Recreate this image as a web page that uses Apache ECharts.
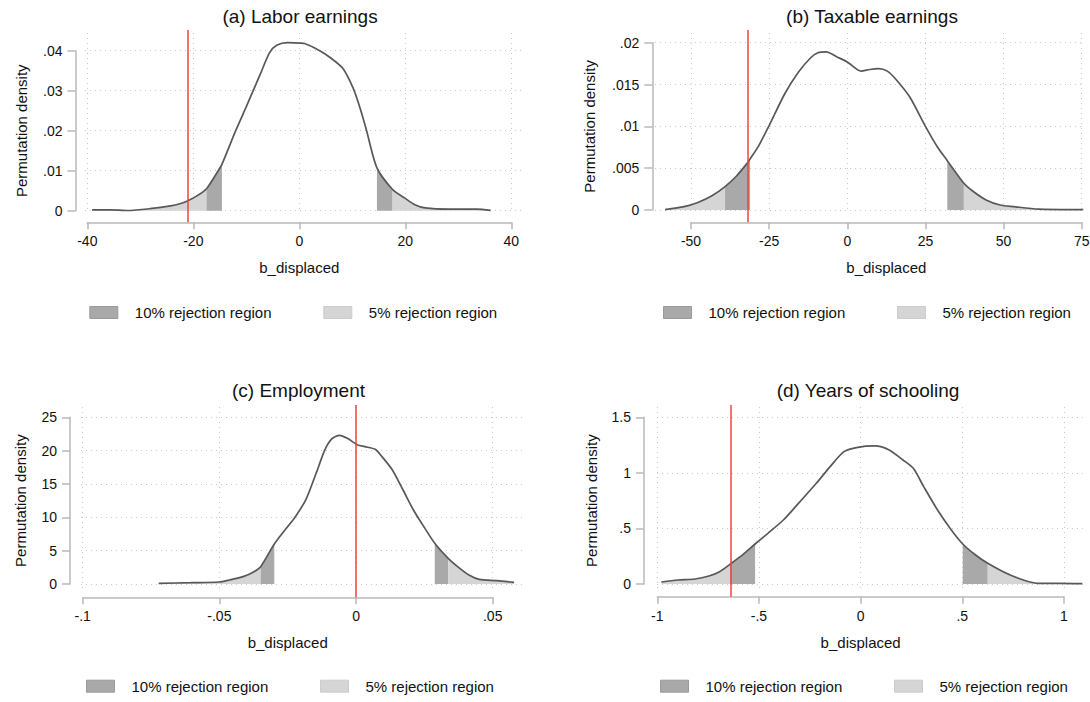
<!DOCTYPE html>
<html><head><meta charset="utf-8">
<script src="https://cdn.jsdelivr.net/npm/echarts@6/dist/echarts.min.js"></script>
<style>html,body{margin:0;padding:0;background:#fff}#c{width:1090px;height:702px}</style>
</head><body><div id="c"></div>
<script>
// ---------- DATA ----------
const panelTitles = ['(a) Labor earnings', '(b) Taxable earnings', '(c) Employment', '(d) Years of schooling'];
const xAxisName = 'b_displaced';
const yAxisName = 'Permutation density';
const legend10 = '10% rejection region';
const legend5 = '5% rejection region';

// (a) Labor earnings
const laborCurve = [[-39.1,0.0002],[-35.5,0.0002],[-32.4,0.00005],[-28.2,0.0005],[-24.3,0.0012],[-22.4,0.0018],[-21,0.0025],[-19.1,0.0039],[-17.5,0.0055],[-15.3,0.0100],[-14.6,0.0116],[-12.0,0.0200],[-10,0.0260],[-8.7,0.0300],[-7.4,0.0340],[-5.6,0.0395],[-4.2,0.0414],[-2.2,0.0420],[0.4,0.0419],[1.0,0.0418],[3.0,0.0406],[5.6,0.0385],[8.2,0.0356],[10.2,0.0305],[11.5,0.0255],[12.6,0.0205],[14.65,0.0107],[17.6,0.0053],[19.85,0.0032],[21.8,0.0015],[23.75,0.0007],[28.3,0.0004],[33.5,0.0004],[36.1,0.0001]];
const laborXTicks = [-40,-20,0,20,40];
const laborYTicks = [0,0.01,0.02,0.03,0.04];
const laborEstimate = -21;
const labor10 = [-14.6, 14.65];
const labor5 = [-17.5, 17.6];

// (b) Taxable earnings
const taxCurve = [[-58.3,0.00004],[-52.2,0.0004],[-47.8,0.0009],[-43.3,0.0017],[-39.1,0.0028],[-35.6,0.0040],[-32,0.0056],[-31.1,0.0061],[-28.3,0.0077],[-25,0.0101],[-20,0.0139],[-15.6,0.0165],[-11.7,0.0182],[-9.4,0.0188],[-6.7,0.0189],[-3.3,0.0183],[0,0.0177],[4.4,0.0166],[7.2,0.0168],[10,0.0169],[12.8,0.0166],[15.6,0.0156],[20,0.0135],[25,0.0100],[28.9,0.0075],[32,0.0059],[37.3,0.0032],[40,0.0023],[44.4,0.0012],[48.9,0.0006],[53.3,0.0004],[61.1,0.0001],[75.5,0.00004]];
const taxXTicks = [-50,-25,0,25,50,75];
const taxYTicks = [0,0.005,0.01,0.015,0.02];
const taxEstimate = -32;
const tax10 = [-31.1, 32];
const tax5 = [-39.1, 37.3];

// (c) Employment
const empCurve = [[-0.0722,0.1],[-0.0604,0.2],[-0.0502,0.3],[-0.0464,0.6],[-0.0413,1.1],[-0.0375,1.8],[-0.0349,2.6],[-0.0299,6.0],[-0.0260,8.1],[-0.0222,10.1],[-0.0184,12.6],[-0.0146,16.6],[-0.0114,20.1],[-0.0089,21.75],[-0.0060,22.3],[-0.0032,21.85],[0.0006,20.85],[0.0032,20.6],[0.0070,20.2],[0.0095,19.1],[0.0133,17.1],[0.0172,14.1],[0.0210,11.1],[0.0248,8.6],[0.0288,6.1],[0.0337,3.85],[0.0375,2.5],[0.0413,1.35],[0.0451,0.7],[0.0515,0.5],[0.0578,0.25]];
const empXTicks = [-0.1,-0.05,0,0.05];
const empYTicks = [0,5,10,15,20,25];
const empEstimate = 0.001;
const emp10 = [-0.0299, 0.0288];
const emp5 = [-0.0349, 0.0337];

// (d) Years of schooling
const schoolCurve = [[-0.98,0.018],[-0.899,0.036],[-0.814,0.045],[-0.746,0.072],[-0.694,0.111],[-0.643,0.177],[-0.592,0.246],[-0.519,0.36],[-0.456,0.456],[-0.38,0.576],[-0.32,0.696],[-0.218,0.906],[-0.15,1.056],[-0.082,1.191],[-0.014,1.23],[0.071,1.242],[0.14,1.206],[0.208,1.116],[0.259,1.041],[0.31,0.876],[0.378,0.666],[0.446,0.486],[0.502,0.36],[0.565,0.261],[0.625,0.186],[0.701,0.111],[0.786,0.045],[0.871,0.006],[0.974,0.006],[1.09,0.003]];
const schoolXTicks = [-1,-0.5,0,0.5,1];
const schoolYTicks = [0,0.5,1,1.5];
const schoolEstimate = -0.64;
const school10 = [-0.519, 0.502];
const school5 = [-0.643, 0.625];

// ---------- LAYOUT (pixels) ----------
const layout = [
  {x0:87.3, x1:511.3, y0:210.7, y1:50.7, plotL:85, plotR:523, vTop:33, vBot:213, yAxisX:75.5, xAxisY:222.3, redTop:30, titleX:300, titleY:16, legY:313, leg10:89.3, leg5:323.3, yNameGap:47},
  {x0:691, x1:1081.7, y0:210, y1:42.7, plotL:655, plotR:1085, vTop:33, vBot:213, yAxisX:652.3, xAxisY:222.3, redTop:30, titleX:872, titleY:16, legY:313, leg10:663, leg5:897, yNameGap:55},
  {x0:82.7, x1:492.7, y0:584, y1:417.3, plotL:81, plotR:523, vTop:407, vBot:588, yAxisX:70, xAxisY:597.3, redTop:405, titleX:298.5, titleY:390, legY:686.7, leg10:86, leg5:320, yNameGap:42},
  {x0:657.3, x1:1064, y0:584, y1:417.3, plotL:657, plotR:1086, vTop:407, vBot:588, yAxisX:644, xAxisY:596.7, redTop:405, titleX:868, titleY:390, legY:686.7, leg10:660, leg5:894, yNameGap:45}
];

const panels = [
  {curve:laborCurve, xt:laborXTicks, yt:laborYTicks, est:laborEstimate, r10:labor10, r5:labor5},
  {curve:taxCurve, xt:taxXTicks, yt:taxYTicks, est:taxEstimate, r10:tax10, r5:tax5},
  {curve:empCurve, xt:empXTicks, yt:empYTicks, est:empEstimate, r10:emp10, r5:emp5},
  {curve:schoolCurve, xt:schoolXTicks, yt:schoolYTicks, est:schoolEstimate, r10:school10, r5:school5}
];

// ---------- STYLE ----------
const FONT = '"Liberation Sans", Arial, Helvetica, sans-serif';
const axisColor = '#b9b9b9';
const gridStyle = {color:'#c9c9c9', width:1, type:[1,4]};
const curveColor = '#585858';
const redColor = '#e8463b';
const dark = '#a9a9a9';
const light = '#d5d5d5';

function fmt(v) {
  let s = String(+(+v).toPrecision(6));
  if (s.startsWith('0.')) s = s.slice(1);
  else if (s.startsWith('-0.')) s = '-' + s.slice(2);
  return s;
}

const grid = [], xAxis = [], yAxis = [], series = [], legend = [], graphic = [];

panels.forEach((p, i) => {
  const L = layout[i];
  const xmin = p.xt[0], xmax = p.xt[p.xt.length-1], xint = p.xt[1]-p.xt[0];
  const ymin = p.yt[0], ymax = p.yt[p.yt.length-1], yint = p.yt[1]-p.yt[0];
  // data grid spans the whole plot region; extend the scale so the tick positions stay put
  const perPx = (xmax - xmin) / (L.x1 - L.x0);
  const xminD = xmin - (L.x0 - L.plotL) * perPx;
  const xmaxD = xmax + (L.plotR - L.x1) * perPx;

  const gV = grid.length, gH = gV+1, gD = gV+2, gR = gV+3;
  grid.push({left:L.x0, width:L.x1-L.x0, top:L.vTop, height:L.vBot-L.vTop, containLabel:false, outerBoundsMode:'none'});
  grid.push({left:L.plotL, width:L.plotR-L.plotL, top:L.y1, height:L.y0-L.y1, containLabel:false, outerBoundsMode:'none'});
  grid.push({left:L.plotL, width:L.plotR-L.plotL, top:L.y1, height:L.y0-L.y1, containLabel:false, outerBoundsMode:'none'});
  grid.push({left:L.x0, width:L.x1-L.x0, top:L.redTop, height:L.xAxisY-L.redTop, containLabel:false, outerBoundsMode:'none'});

  xAxis.push({gridIndex:gV, type:'value', min:xmin, max:xmax, interval:xint, position:'bottom', offset:L.xAxisY-L.vBot,
    axisLine:{show:true, onZero:false, lineStyle:{color:axisColor, width:1.5}},
    axisTick:{show:true, length:7, lineStyle:{color:axisColor, width:1.5}},
    axisLabel:{show:true, margin:12, fontSize:14, color:'#111', fontFamily:FONT, formatter:fmt, showMinLabel:true, showMaxLabel:true},
    splitLine:{show:true, lineStyle:gridStyle},
    name:xAxisName, nameLocation:'middle', nameGap:38, nameTextStyle:{fontSize:15, color:'#111', fontFamily:FONT}});
  yAxis.push({gridIndex:gV, type:'value', show:false, min:0, max:1});

  xAxis.push({gridIndex:gH, type:'value', show:false, min:0, max:1});
  yAxis.push({gridIndex:gH, type:'value', min:ymin, max:ymax, interval:yint, position:'left', offset:L.plotL-L.yAxisX,
    axisLine:{show:true, onZero:false, lineStyle:{color:axisColor, width:1.5}},
    axisTick:{show:true, length:8, lineStyle:{color:axisColor, width:1.5}},
    axisLabel:{show:true, margin:13, fontSize:14, color:'#111', fontFamily:FONT, formatter:fmt, showMinLabel:true, showMaxLabel:true},
    splitLine:{show:true, lineStyle:gridStyle},
    name:yAxisName, nameLocation:'middle', nameGap:L.yNameGap, nameTextStyle:{fontSize:15, color:'#111', fontFamily:FONT}});

  xAxis.push({gridIndex:gD, type:'value', show:false, min:xminD, max:xmaxD});
  yAxis.push({gridIndex:gD, type:'value', show:false, min:ymin, max:ymax});
  xAxis.push({gridIndex:gR, type:'value', show:false, min:xmin, max:xmax});
  yAxis.push({gridIndex:gR, type:'value', show:false, min:0, max:1});

  const xi = xAxis.length - 2;
  const yi = yAxis.length - 2;
  const seg = (lo, hi) => p.curve.filter(d => d[0] >= lo && d[0] <= hi);
  const area = (name, color, data) => ({
    type:'line', name, xAxisIndex:xi, yAxisIndex:yi, data, symbol:'none', showSymbol:false, smooth:0.25,
    clip:false, silent:true, z:2, lineStyle:{width:0, color}, itemStyle:{color}, areaStyle:{color, opacity:1}
  });
  series.push(area(legend5, light, seg(-Infinity, p.r5[0])));
  series.push(area(legend10, dark, seg(p.r5[0], p.r10[0])));
  series.push(area(legend10, dark, seg(p.r10[1], p.r5[1])));
  series.push(area(legend5, light, seg(p.r5[1], Infinity)));
  series.push({type:'line', name:'density', xAxisIndex:xi, yAxisIndex:yi, data:p.curve, symbol:'none', showSymbol:false,
    smooth:0.25, clip:false, silent:true, z:3, lineStyle:{color:curveColor, width:1.7}, itemStyle:{color:curveColor}});
  series.push({type:'line', name:'estimate', xAxisIndex:xAxis.length-1, yAxisIndex:yAxis.length-1, data:[], symbol:'none',
    silent:true, z:4,
    markLine:{silent:true, symbol:['none','none'], label:{show:false}, animation:false,
      lineStyle:{color:redColor, width:1.5, type:'solid'}, data:[{xAxis:p.est}]}});

  const legText = {fontSize:15, color:'#111', fontFamily:FONT, padding:[0,0,0,12]};
  legend.push({left:L.leg10, top:L.legY-8, padding:0, itemWidth:28, itemHeight:12, selectedMode:false, icon:'rect',
    data:[{name:legend10, itemStyle:{color:dark, borderColor:'#9a9a9a', borderWidth:1}}], textStyle:legText});
  legend.push({left:L.leg5, top:L.legY-8, padding:0, itemWidth:28, itemHeight:12, selectedMode:false, icon:'rect',
    data:[{name:legend5, itemStyle:{color:light, borderColor:'#cccccc', borderWidth:1}}], textStyle:legText});

  graphic.push({type:'text', x:L.titleX, y:L.titleY, silent:true,
    style:{text:panelTitles[i], fontSize:19, fontFamily:FONT, fill:'#111', align:'center', verticalAlign:'middle',
      textAlign:'center', textVerticalAlign:'middle'}});
});

const chart = echarts.init(document.getElementById('c'), null, {renderer:'svg', width:1090, height:702});
chart.setOption({backgroundColor:'#ffffff', animation:false, grid, xAxis, yAxis, series, legend, graphic});
</script>
</body></html>
